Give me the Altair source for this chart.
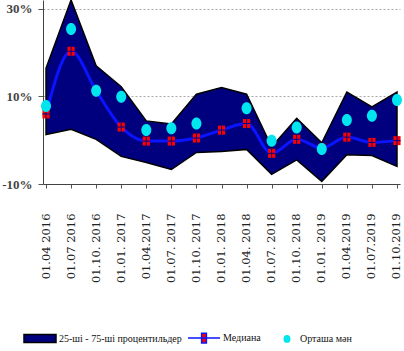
import altair as alt
import pandas as pd

cats = ["01.04 2016", "01.07 2016", "01.10. 2016", "01.01. 2017", "01.04.2017",
        "01.07. 2017", "01.10. 2017", "01.01. 2018", "01.04. 2018", "01.07. 2018",
        "01.10. 2018", "01.01. 2019", "01.04.2019", "01.07.2019", "01.10.2019"]
p75 = [16.4, 32.0, 17.0, 12.2, 4.4, 3.7, 10.5, 12.0, 10.5, -1.5, 5.0, -0.6, 11.0, 7.6, 11.0]
p25 = [1.3, 2.5, 0.2, -3.7, -5.1, -6.7, -2.8, -2.6, -2.1, -7.8, -4.5, -9.4, -3.3, -3.5, -6.0]
median = [6.0, 20.3, 11.3, 3.0, -0.2, -0.2, 0.5, 2.3, 3.8, -3.0, 0.2, -1.8, 0.7, -0.5, -0.1]
mean = [7.8, 25.4, 11.3, 9.9, 2.3, 2.7, 3.8, None, 7.3, -0.1, 2.9, -2.0, 4.6, 5.6, 9.2]

series_names = ["25-ші - 75-ші процентильдер", "Медиана", "Орташа мән"]

df = pd.DataFrame({"date": cats, "p75": p75, "p25": p25, "median": median, "mean": mean})
df["series"] = series_names[2]

FONT = "Liberation Serif"

x = alt.X("date:N", sort=cats, title=None,
          scale=alt.Scale(type="point", padding=0.12),
          axis=alt.Axis(labelAngle=-90, labelPadding=25, labelFont="DejaVu Serif", labelFontSize=11.5,
                        labelColor="#222", tickSize=4, tickColor="#555", domainColor="#444",
                        labelOverlap=False))
yscale = alt.Scale(domain=[-10, 32], nice=False, zero=False)
yaxis = alt.Axis(values=[-10, 10, 30], labelExpr="datum.value + '%'", grid=True,
                 gridDash=[2, 2], gridColor="#aaaaaa", labelFont=FONT, labelFontSize=13,
                 labelFontWeight="bold", labelColor="#444", tickSize=5, tickColor="#555",
                 domainColor="#444", labelPadding=6)

base = alt.Chart(df)

band = base.mark_area(color="#00007f", stroke="black", strokeWidth=1.5, interpolate="linear",
                      opacity=1).encode(
    x=x, y=alt.Y("p75:Q", scale=yscale, axis=yaxis, title=None), y2="p25:Q")

med_line = base.mark_line(color="#0a14ff", strokeWidth=3, interpolate="monotone").encode(
    x=x, y=alt.Y("median:Q", scale=yscale))

med_sq = base.mark_point(shape="M-0.8,-1H0.8V1H-0.8Z", filled=True, color="#ff0000",
                         size=81, opacity=1).encode(x=x, y=alt.Y("median:Q", scale=yscale))
med_cross = base.mark_point(shape="M0,-1V1M-0.8,0H0.8", filled=False, color="#00008b",
                            strokeWidth=1, size=81, opacity=1).encode(
    x=x, y=alt.Y("median:Q", scale=yscale))

mean_pts = base.mark_point(shape="M0,-1.2A1,1.2 0 1,1 0,1.2A1,1.2 0 1,1 0,-1.2Z",
                           filled=True, color="#00e5ee", size=100, opacity=1).encode(
    x=x, y=alt.Y("mean:Q", scale=yscale))

pad_label = ("datum.label == 'Медиана' ? datum.label + "
             "'\u00a0\u00a0\u00a0\u00a0\u00a0\u00a0\u00a0\u00a0\u00a0\u00a0\u00a0\u00a0' : datum.label")

leg = alt.Legend(title=None, orient="none", legendX=-20, legendY=321, direction="horizontal",
                 symbolSize=1024, symbolStrokeWidth=1.5, labelFont=FONT, labelFontSize=10,
                 labelColor="#111", labelOffset=2, columnPadding=3, padding=0,
                 symbolOpacity=1, labelExpr=pad_label, labelLimit=300)

legend_layer = base.mark_point(filled=True, opacity=1).encode(
    x=x, y=alt.Y("mean:Q", scale=yscale),
    fill=alt.Fill("series:N", scale=alt.Scale(domain=series_names,
                                              range=["#00007f", "#ff0000", "#00e5ee"]), legend=leg),
    stroke=alt.Stroke("series:N", scale=alt.Scale(domain=series_names,
                                                  range=["#000000", "#0a14ff", "#00e5ee"]), legend=leg),
    shape=alt.Shape("series:N", scale=alt.Scale(domain=series_names, range=[
        "M-1,-0.25H1V0.25H-1Z",
        "M-1,0H1M-0.15,-0.3H0.15V0.3H-0.15Z",
        "M0.375,-0.2A0.17,0.2 0 1,1 0.375,0.2A0.17,0.2 0 1,1 0.375,-0.2Z"]), legend=leg),
).transform_filter("false")

chart = alt.layer(band, med_line, med_sq, med_cross, mean_pts, legend_layer).properties(
    width=357, height=184,
    padding={"left": 43, "top": 0, "right": 4, "bottom": 167},
    autosize=alt.AutoSizeParams(type="none"),
    background="white",
).configure_view(stroke=None)

chart.save("out.html", embed_options={"renderer": "svg", "actions": False})
